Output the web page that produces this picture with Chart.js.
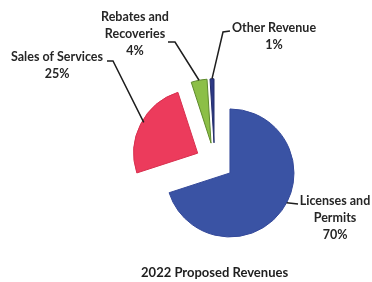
<!DOCTYPE html>
<html>
<head>
<meta charset="utf-8">
<script src="https://cdn.jsdelivr.net/npm/chart.js@4.4.1/dist/chart.umd.min.js"></script>
<style>
  html, body { margin: 0; padding: 0; background: #ffffff; }
  #wrap { width: 372px; height: 282px; position: relative; }
</style>
</head>
<body>
<div id="wrap"><canvas id="c" width="372" height="282"></canvas></div>
<script>
// ---- data ----
const categories = [['Licenses and', 'Permits'], ['Sales of Services'], ['Rebates and', 'Recoveries'], ['Other Revenue']];
const shares = [70, 25, 4, 1];
const titleText = '2022 Proposed Revenues';

// ---- styles / layout ----
const sliceColors = ['#3a53a4', '#ec3b5c', '#8cbf47', '#2e3a86'];
const sliceBorders = ['#34499a', '#d8304f', '#5e8a2c', '#232c6a'];
const EXPLODE = 19;
const FONT = '"Lato", "Open Sans", sans-serif';
// label placement (layout only)
const labelLayout = [
  { f: 0.467, rf: 1.0, path: [[298, 204]], x: 335, y: 201 },
  { f: 0.53, rf: 0.97, path: [[113, 61], [107, 61]], x: 57, y: 57 },
  { f: 0.5, rf: 1.0, path: [[175, 42], [168, 42]], x: 135, y: 17 },
  { f: 0.5, rf: 1.0, path: [[223, 32], [230, 31]], x: 274, y: 28 }
];

const explodePlugin = {
  id: 'explode',
  afterDatasetUpdate(chart, args) {
    args.meta.data.forEach(arc => {
      const mid = (arc.startAngle + arc.endAngle) / 2;
      arc.x += Math.cos(mid) * EXPLODE;
      arc.y += Math.sin(mid) * EXPLODE;
    });
  }
};

const labelPlugin = {
  id: 'sliceLabels',
  afterDatasetsDraw(chart) {
    const ctx = chart.ctx;
    const meta = chart.getDatasetMeta(0);
    const total = shares.reduce((a, b) => a + b, 0);
    ctx.save();
    meta.data.forEach((arc, i) => {
      const L = labelLayout[i];
      const ang = arc.startAngle + L.f * (arc.endAngle - arc.startAngle);
      const r = arc.outerRadius * L.rf;
      const ax = arc.x + Math.cos(ang) * r;
      const ay = arc.y + Math.sin(ang) * r;
      ctx.beginPath();
      ctx.moveTo(ax, ay);
      L.path.forEach(p => ctx.lineTo(p[0], p[1]));
      ctx.strokeStyle = '#1e1e1e';
      ctx.lineWidth = 1.5;
      ctx.stroke();

      ctx.fillStyle = '#262626';
      ctx.font = 'bold 12.5px ' + FONT;
      ctx.textAlign = 'center';
      ctx.textBaseline = 'middle';
      const lines = categories[i].concat([Math.round(shares[i] / total * 100) + '%']);
      lines.forEach((t, k) => ctx.fillText(t, L.x, L.y + k * 17));
    });
    ctx.restore();
  }
};

new Chart(document.getElementById('c'), {
  type: 'pie',
  data: {
    labels: categories.map(c => c.join(' ')),
    datasets: [{
      data: shares,
      backgroundColor: sliceColors,
      borderColor: sliceBorders,
      borderWidth: 1
    }]
  },
  options: {
    responsive: false,
    animation: false,
    events: [],
    radius: 64,
    layout: { padding: { left: 134.6, right: 77.4, top: 58.4, bottom: 1.2 } },
    plugins: {
      legend: { display: false },
      tooltip: { enabled: false },
      title: {
        display: true,
        text: titleText,
        position: 'bottom',
        fullSize: false,
        color: '#1e1e1e',
        font: { family: FONT, size: 13, weight: 'bold', lineHeight: 1.2 },
        padding: { top: 0, bottom: 0 }
      }
    }
  },
  plugins: [explodePlugin, labelPlugin]
});
</script>
</body>
</html>
